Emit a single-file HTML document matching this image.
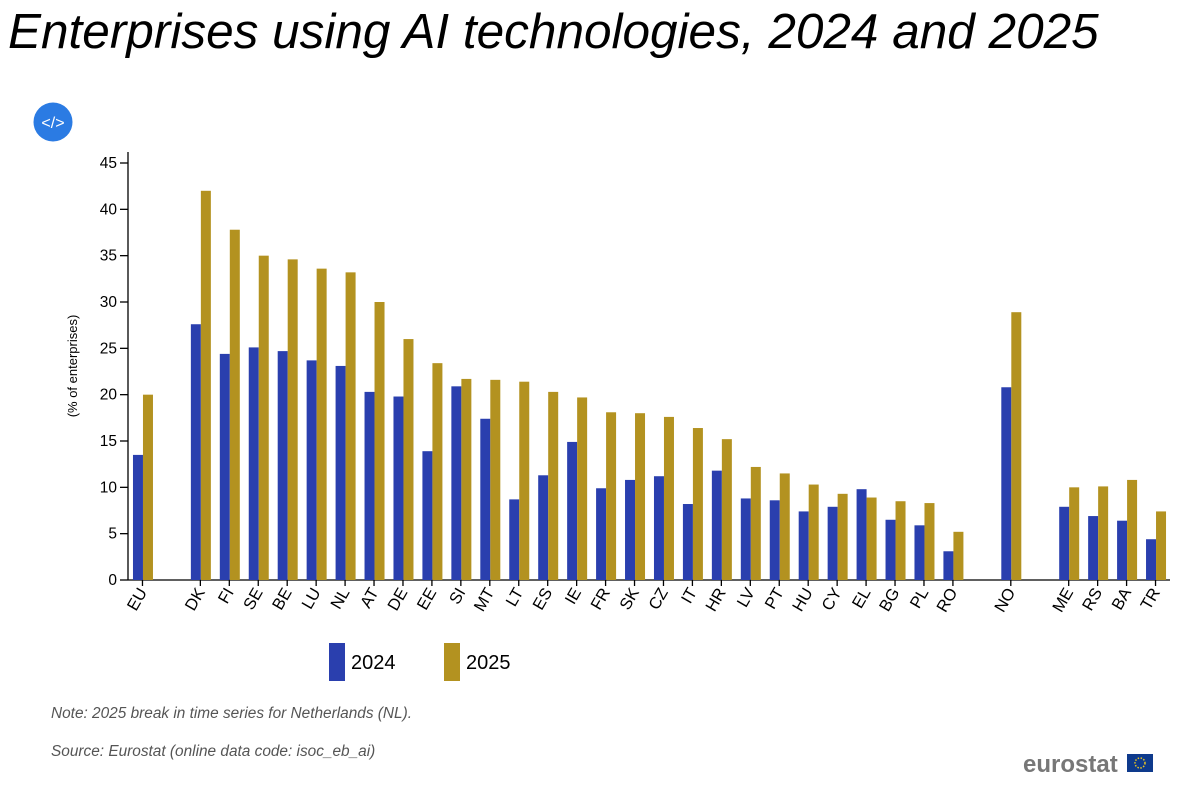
<!DOCTYPE html>
<html><head><meta charset="utf-8"><style>
body{margin:0;background:#fff;width:1202px;height:785px;overflow:hidden;font-family:"Liberation Sans",Arial,sans-serif}
</style></head><body>
<svg width="1202" height="785" xmlns="http://www.w3.org/2000/svg">
<text x="8" y="48" font-size="49.5" font-style="italic" fill="#000">Enterprises using AI technologies, 2024 and 2025</text>
<g><circle cx="53" cy="122" r="19.5" fill="#2b7be3"/><text x="53" y="128" font-size="16" fill="#fff" text-anchor="middle">&lt;/&gt;</text></g>
<text transform="translate(77,366) rotate(-90)" font-size="13" text-anchor="middle">(% of enterprises)</text>
<g id="plot"></g>
<g>
<g><rect x="329" y="643" width="16" height="38" fill="#2a3fae"/><text x="351" y="669" font-size="20">2024</text></g>
<g><rect x="444" y="643" width="16" height="38" fill="#b39220"/><text x="466" y="669" font-size="20">2025</text></g>
</g>
<text x="51" y="718" font-size="15.4" font-style="italic" fill="#555">Note: 2025 break in time series for Netherlands (NL).</text>
<text x="51" y="756" font-size="15.4" font-style="italic" fill="#555">Source: Eurostat (online data code: isoc_eb_ai)</text>
<g><text x="1023" y="772" font-size="24" font-weight="bold" fill="#777">eurostat</text><rect x="1127" y="754" width="26" height="18" fill="#0e3a8c"/><circle cx="1140" cy="763" r="5" fill="none" stroke="#e7c423" stroke-width="1.5" stroke-dasharray="1.5 1.5"/></g>
</svg>
<script>
const categories=["EU",null,"DK","FI","SE","BE","LU","NL","AT","DE","EE","SI","MT","LT","ES","IE","FR","SK","CZ","IT","HR","LV","PT","HU","CY","EL","BG","PL","RO",null,"NO",null,"ME","RS","BA","TR"];
const values2024=[13.5,null,27.6,24.4,25.1,24.7,23.7,23.1,20.3,19.8,13.9,20.9,17.4,8.7,11.3,14.9,9.9,10.8,11.2,8.2,11.8,8.8,8.6,7.4,7.9,9.8,6.5,5.9,3.1,null,20.8,null,7.9,6.9,6.4,4.4];
const values2025=[20.0,null,42.0,37.8,35.0,34.6,33.6,33.2,30.0,26.0,23.4,21.7,21.6,21.4,20.3,19.7,18.1,18.0,17.6,16.4,15.2,12.2,11.5,10.3,9.3,8.9,8.5,8.3,5.2,null,28.9,null,10.0,10.1,10.8,7.4];
const yTicks=[0,5,10,15,20,25,30,35,40,45];
const NS="http://www.w3.org/2000/svg";
const g=document.getElementById('plot');
const x0=128,x1=1170,y0=580,ymaxPx=163,ymax=45;
const slot=(x1-x0)/categories.length;
const y=v=>y0-(v/ymax)*(y0-ymaxPx);
const xc=i=>x0+slot*(i+0.5);
function mk(t,a){const e=document.createElementNS(NS,t);for(const k in a)e.setAttribute(k,a[k]);g.appendChild(e);return e;}
const ax=mk('line',{x1:x0,x2:x0,y1:152,y2:y0,stroke:'#000','stroke-width':1.3});


const bx=mk('line',{x1:x0,x2:x1,y1:y0,y2:y0,stroke:'#000','stroke-width':1.3});


yTicks.forEach(t=>{
 mk('line',{x1:x0-8,x2:x0,y1:y(t),y2:y(t),stroke:'#000','stroke-width':1.3});
 const tx=mk('text',{x:x0-11,y:y(t)+5,'font-size':15.5,'text-anchor':'end'});
 tx.textContent=t;
 
 
});
categories.forEach((c,i)=>{
 if(c===null)return;
 const cx=xc(i);
 mk('line',{x1:cx,x2:cx,y1:y0,y2:y0+6,stroke:'#000','stroke-width':1.3});
 const b1=mk('rect',{x:cx-9.5,y:y(values2024[i]),width:10,height:y0-y(values2024[i]),fill:'#2a3fae'});
 
 
 const b2=mk('rect',{x:cx+0.5,y:y(values2025[i]),width:10,height:y0-y(values2025[i]),fill:'#b39220'});
 
 
 const tl=mk('text',{transform:`translate(${cx+5},${y0+12}) rotate(-60)`,'font-size':16.5,'text-anchor':'end'});
 tl.textContent=c;
 
 
});
</script>
</body></html>
